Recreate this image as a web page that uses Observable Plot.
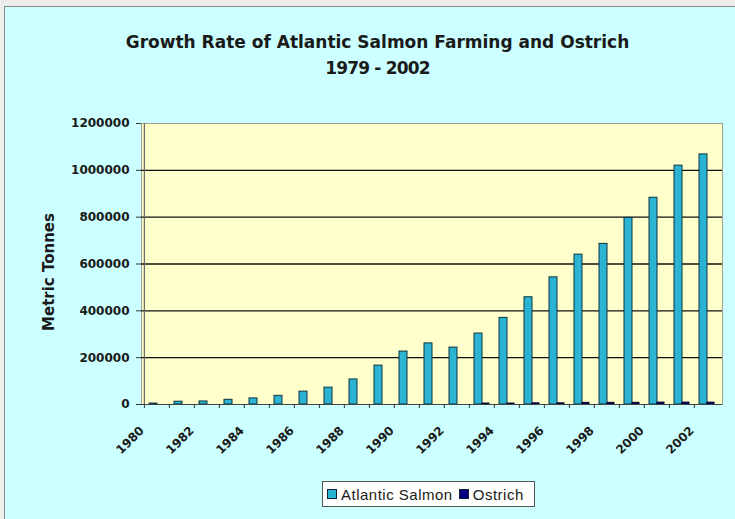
<!DOCTYPE html>
<html>
<head>
<meta charset="utf-8">
<script src="https://cdn.jsdelivr.net/npm/d3@7"></script>
<script src="https://cdn.jsdelivr.net/npm/@observablehq/plot@0.6"></script>
<style>
  html, body { margin: 0; padding: 0; background: #eeeeee; }
  #wrap { position: relative; width: 735px; height: 519px; overflow: hidden; }
  #box { position: absolute; left: 4px; top: 6px; width: 740px; height: 520px; background: #CCFFFF; border-left: 1px solid #888; border-top: 1px solid #888; }
  #chart { position: absolute; left: 0; top: 0; }
  .title { position: absolute; left: 0; width: 755px; text-align: center; font-family: "DejaVu Sans", sans-serif; font-weight: bold; font-size: 17px; color: #1a1a1a; line-height: 20px; }
  #legend { position: absolute; left: 322px; top: 481px; width: 207px; height: 24px; background: #fff; border: 1px solid #555; font-family: "Liberation Sans", Arial, sans-serif; font-size: 15px; letter-spacing: 0.5px; color: #1a1a1a; display: flex; align-items: center; padding-left: 4px; box-sizing: content-box; }
  .item { display: inline-flex; align-items: center; margin-right: 6px; }
  .sw { display: inline-block; width: 8px; height: 8px; border: 1px solid #123; margin-right: 4px; }
</style>
</head>
<body>
<div id="wrap">
  <div id="box"></div>
  <div id="chart"></div>
  <div class="title" style="top:32px">Growth Rate of Atlantic Salmon Farming and Ostrich</div>
  <div class="title" style="top:58px; letter-spacing:-0.8px">1979 - 2002</div>
  <div id="legend"></div>
</div>
<script>
const years = [1980, 1981, 1982, 1983, 1984, 1985, 1986, 1987, 1988, 1989, 1990, 1991, 1992, 1993, 1994, 1995, 1996, 1997, 1998, 1999, 2000, 2001, 2002];
const salmon = [4000, 12000, 13000, 20000, 26000, 37000, 55000, 72000, 107000, 166000, 226000, 261000, 243000, 303000, 370000, 458000, 543000, 640000, 686000, 797000, 883000, 1020000, 1068000];
const ostrich = [0, 0, 0, 0, 0, 0, 0, 0, 0, 0, 0, 0, 0, 4000, 4000, 5000, 5000, 7000, 7000, 7000, 8000, 8000, 8000];
const seriesNames = ["Atlantic Salmon", "Ostrich"];
const seriesColors = ["#2BB3D3", "#000080"];
const yTicks = [0, 200000, 400000, 600000, 800000, 1000000, 1200000];
const xLabelYears = [1980, 1982, 1984, 1986, 1988, 1990, 1992, 1994, 1996, 1998, 2000, 2002];

const salmonData = years.map((y, i) => ({year: y, value: salmon[i]}));
const ostrichData = years.map((y, i) => ({year: y, value: ostrich[i]}));

const W = 735, H = 519, mL = 141, mR = 13, mT = 123, mB = 115;
const step = (W - mL - mR) / years.length;

const chart = Plot.plot({
  width: W, height: H,
  marginLeft: mL, marginRight: mR, marginTop: mT, marginBottom: mB,
  style: {background: "transparent", fontFamily: "DejaVu Sans, sans-serif", fontWeight: "bold", fontSize: "12px", color: "#1a1a1a", overflow: "visible"},
  x: {type: "band", domain: years, padding: 0, label: null},
  y: {domain: [0, 1200000], label: null},
  marks: [
    Plot.frame({fill: "#FFFFCC", stroke: "#a0a090"}),
    Plot.gridY(yTicks.slice(1, -1), {stroke: "#111", strokeOpacity: 1, strokeWidth: 1.3}),
    Plot.barY(salmonData, {x: "year", y: "value", fill: seriesColors[0], stroke: "#0d3440", strokeWidth: 1, insetLeft: 5, insetRight: 12}),
    Plot.barY(ostrichData.filter(d => d.value > 0), {x: "year", y: "value", fill: seriesColors[1], stroke: "#000030", strokeWidth: 1, insetLeft: 13, insetRight: 5}),
    Plot.ruleY([0], {stroke: "#444", strokeWidth: 1.2}),
    Plot.ruleX([years[0]], {dx: -step / 2, stroke: "#666", strokeWidth: 1.2}),
    Plot.axisY({ticks: yTicks, tickSize: 5, tickPadding: 7, tickFormat: d3.format("d"), label: null, stroke: "#333"}),
    Plot.axisX({ticks: years, tickSize: 4, text: null, dx: -step / 2, stroke: "#333"}),
    Plot.axisX({ticks: xLabelYears, tickSize: 0, tickRotate: -45, tickPadding: 0, tickFormat: d => String(d), dx: -15, dy: 24, label: null, fontSize: 12})
  ]
});
document.getElementById("chart").appendChild(chart);

// y axis title
const svg = d3.select(chart);
svg.append("text")
  .attr("transform", "translate(54,272) rotate(-90)")
  .attr("text-anchor", "middle")
  .attr("font-family", "DejaVu Sans, sans-serif")
  .attr("font-weight", "bold")
  .attr("font-size", 15)
  .attr("fill", "#1a1a1a")
  .text("Metric Tonnes");

const legend = document.getElementById("legend");
seriesNames.forEach((name, i) => {
  const item = document.createElement("span");
  item.className = "item";
  item.innerHTML = `<span class="sw" style="background:${seriesColors[i]}"></span>${name}`;
  legend.appendChild(item);
});
</script>
</body>
</html>
